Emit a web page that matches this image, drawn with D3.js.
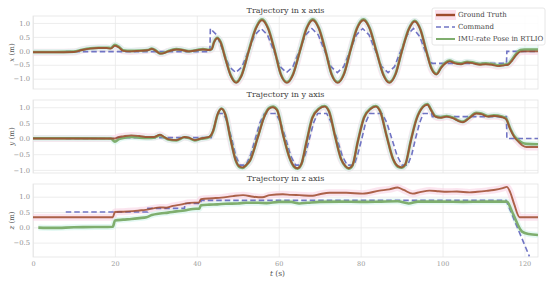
<!DOCTYPE html>
<html>
<head>
<meta charset="utf-8">
<script src="https://cdn.jsdelivr.net/npm/d3@7"></script>
<style>
  body { margin: 0; background: #fff; }
  text { font-family: "DejaVu Serif", serif; }
</style>
</head>
<body>
<div id="chart"></div>
<script>
// chart size
let svgWidth = 550;
let svgHeight = 281;

// time ticks (shared)
const tTicks = [0, 20, 40, 60, 80, 100, 120];

// ---- x axis panel ----
const gtX = [[0,-0.05],[5,-0.05],[10,-0.04],[12,0.03],[14,0.08],[16,0.1],[18,0.1],[19,0.08],[20,0.18],[21,0.12],[22,0.0],[24,-0.02],[26,0.0],[28,0.02],[29,0.07],[30,0.0],[31,-0.1],[32,-0.08],[33,-0.02],[35,0.05],[36,0.04],[38,-0.02],[40,0.02],[41.5,0.05],[43,0.03],[43.6,0.05],
  [44.2,0.3],[45,0.45],[45.8,0.3],[47,-0.3],[48.3,-0.9],[49.6,-1.15],[50.9,-0.9],[52.7,0.0],[54.4,0.8],[55.9,1.1],[57.4,0.8],[59.0,0.0],[60.5,-0.85],[62.0,-1.15],[63.5,-0.85],[65.2,0.0],[66.8,0.8],[68.3,1.1],[69.8,0.8],[71.4,0.0],[72.9,-0.85],[74.4,-1.15],[75.9,-0.85],[77.5,0.0],[79.1,0.8],[80.7,1.1],[82.2,0.8],[83.8,0.0],[85.5,-0.85],[87.0,-1.15],[88.5,-0.85],[90.1,0.0],[91.7,0.75],[93.2,1.05],[94.6,0.75],[96.0,0.0],[97.3,-0.65],[98.5,-0.85],[99.7,-0.6],[100.7,-0.45],[101.7,-0.38],[103,-0.45],[104.5,-0.48],[106,-0.42],[107.5,-0.45],[109,-0.5],[110.5,-0.48],[112,-0.5],[113.5,-0.55],[115,-0.52],[116,-0.5],[117,-0.35],[118,-0.15],[119,-0.03],[120,-0.02],[123.3,-0.02]];
const cmdX = [[8,-0.03],[43.2,-0.03],[43.3,0.8],[44.85,0.57],[46.4,0.0],[47.95,-0.57],[49.5,-0.78],[51.05,-0.57],[52.6,0.0],[54.15,0.57],[55.7,0.8],[57.25,0.57],[58.8,0.0],[60.35,-0.57],[61.9,-0.78],[63.45,-0.57],[65,0.0],[66.55,0.57],[68.1,0.8],[69.65,0.57],[71.2,0.0],[72.75,-0.57],[74.3,-0.78],[75.85,-0.57],[77.4,0.0],[78.95,0.57],[80.5,0.8],[82.05,0.57],[83.6,0.0],[85.15,-0.57],[86.7,-0.78],[88.25,-0.57],[89.8,0.0],[91.35,0.57],[92.9,0.8],[94.45,0.5],[96.0,-0.1],[97.4,-0.45],[115.6,-0.45],[115.7,-0.02],[123.3,-0.02]];
const imuX = [[0,-0.04],[5,-0.04],[10,-0.03],[12,0.04],[14,0.09],[16,0.11],[18,0.11],[19,0.1],[20,0.22],[21,0.14],[22,0.02],[24,0.0],[26,0.01],[28,0.03],[29,0.08],[30,0.01],[31,-0.09],[32,-0.07],[33,-0.01],[35,0.06],[36,0.05],[38,-0.01],[40,0.03],[41.5,0.06],[43,0.04],[43.6,0.06],
  [44.2,0.32],[45,0.47],[45.8,0.32],[47,-0.28],[48.3,-0.88],[49.6,-1.12],[50.9,-0.88],[52.7,0.02],[54.4,0.82],[55.9,1.13],[57.4,0.82],[59.0,0.02],[60.5,-0.83],[62.0,-1.12],[63.5,-0.83],[65.2,0.02],[66.8,0.82],[68.3,1.13],[69.8,0.82],[71.4,0.02],[72.9,-0.83],[74.4,-1.12],[75.9,-0.83],[77.5,0.02],[79.1,0.82],[80.7,1.13],[82.2,0.82],[83.8,0.02],[85.5,-0.83],[87.0,-1.12],[88.5,-0.83],[90.1,0.02],[91.7,0.77],[93.2,1.08],[94.6,0.77],[96.0,0.02],[97.3,-0.62],[98.5,-0.82],[99.7,-0.57],[100.7,-0.42],[101.7,-0.35],[103,-0.42],[104.5,-0.45],[106,-0.39],[107.5,-0.42],[109,-0.47],[110.5,-0.45],[112,-0.47],[113.5,-0.52],[115,-0.5],[116,-0.47],[117,-0.3],[118,-0.1],[119,0.03],[120,0.05],[123.3,0.05]];

// ---- y axis panel ----
const gtY = [[0,0],[10,0],[19,0],[20,0.0],[21,0.05],[22,0.07],[24,0.1],[26,0.08],[28,0.05],[29.5,0.05],[31,0.12],[32,0.05],[33,-0.02],[35,-0.05],[37,0.05],[38,0.03],[39.5,-0.05],[41,0.0],[43,0.05],
  [44,0.25],[45,0.75],[46,0.95],[47,0.75],[48.2,0.0],[49.5,-0.7],[50.5,-0.9],[51.2,-0.92],[52,-0.85],[53,-0.7],[54.8,0.0],[56.5,0.7],[57.6,0.95],[58.6,1.0],[59.6,0.9],[61.1,0.1],[62.6,-0.6],[63.7,-0.88],[64.6,-0.95],[65.5,-0.82],[66.8,-0.1],[68.2,0.65],[69.9,0.95],[71.2,1.02],[72.3,0.85],[73.7,0.1],[75.2,-0.65],[76.3,-0.88],[77.1,-0.95],[78,-0.85],[79.3,-0.1],[80.8,0.65],[82.5,0.95],[83.7,1.02],[84.8,0.85],[86.3,0.1],[87.9,-0.65],[89.1,-0.88],[90,-0.92],[90.9,-0.82],[92.2,-0.1],[93.6,0.6],[95.2,1.0],[96.3,1.08],[97.2,0.9],[98.2,0.7],[99.5,0.66],[101,0.7],[102.5,0.65],[104,0.55],[105,0.52],[106.5,0.65],[108.2,0.8],[109.5,0.78],[111,0.7],[112.5,0.72],[114.5,0.68],[115.5,0.62],[116.5,0.3],[117.5,0.05],[118.5,-0.1],[119.5,-0.22],[120.5,-0.27],[123.3,-0.27]];
const cmdY = [[8,0],[20,0],[20.5,0.03],[43.5,0.03],[44.3,0.4],[45.2,0.8],[46.5,0.8],[47.5,0.5],[48.5,0.0],[49.5,-0.55],[50.5,-0.85],[52,-0.85],[53.2,-0.5],[54.3,0.0],[55.4,0.5],[56.5,0.8],[59.3,0.8],[60.5,0.5],[61.7,0.0],[62.9,-0.55],[64.1,-0.85],[65.5,-0.85],[66.5,-0.5],[67.5,0.0],[68.5,0.5],[69.5,0.8],[71.7,0.8],[72.9,0.5],[74.2,0.0],[75.5,-0.55],[76.7,-0.85],[78.4,-0.85],[79.3,-0.5],[80.3,0.0],[81.2,0.5],[82.2,0.8],[85.2,0.8],[86.4,0.5],[87.6,0.0],[88.9,-0.55],[90.1,-0.85],[91.5,-0.85],[92.5,-0.5],[93.4,0.0],[94.4,0.5],[95.3,0.8],[97.3,0.8],[97.5,0.7],[115.6,0.7],[115.7,0.0],[123.3,0.0]];
const imuY = [[0,0.01],[10,0.01],[19,0.0],[20,-0.1],[21,-0.02],[22,0.02],[24,0.05],[26,0.03],[28,0.02],[29.5,0.03],[31,0.1],[32,0.04],[33,-0.03],[35,-0.06],[37,0.04],[38,0.02],[39.5,-0.06],[41,-0.01],[43,0.04],
  [44,0.24],[45,0.74],[46,0.96],[47,0.76],[48.2,0.01],[49.5,-0.7],[50.5,-0.92],[51.2,-0.94],[52,-0.86],[53,-0.7],[54.8,0.01],[56.5,0.72],[57.6,0.97],[58.6,1.02],[59.6,0.92],[61.1,0.11],[62.6,-0.6],[63.7,-0.9],[64.6,-0.96],[65.5,-0.83],[66.8,-0.09],[68.2,0.67],[69.9,0.97],[71.2,1.04],[72.3,0.87],[73.7,0.11],[75.2,-0.65],[76.3,-0.9],[77.1,-0.96],[78,-0.86],[79.3,-0.09],[80.8,0.67],[82.5,0.97],[83.7,1.04],[84.8,0.87],[86.3,0.11],[87.9,-0.65],[89.1,-0.9],[90,-0.93],[90.9,-0.83],[92.2,-0.09],[93.6,0.62],[95.2,1.02],[96.3,1.1],[97.2,0.92],[98.2,0.72],[99.5,0.68],[101,0.72],[102.5,0.67],[104,0.57],[105,0.54],[106.5,0.67],[108.2,0.82],[109.5,0.8],[111,0.72],[112.5,0.74],[114.5,0.7],[115.5,0.64],[116.5,0.33],[117.5,0.08],[118.5,-0.05],[119.5,-0.14],[120.5,-0.17],[123.3,-0.18]];

// ---- z axis panel ----
const gtZ = [[0,0.33],[19.5,0.33],[20,0.5],[22,0.51],[24.4,0.53],[26,0.55],[27.5,0.57],[29.3,0.62],[31,0.65],[32.5,0.64],[34.2,0.7],[36,0.74],[38.3,0.8],[40.5,0.81],[41,0.92],[44,0.95],[46,0.97],[48.8,1.02],[51.3,1.05],[53.8,1.0],[56,0.98],[57.8,1.05],[61,1.08],[63,1.06],[65,1.05],[68.3,1.03],[70,1.08],[72.4,1.13],[76.5,1.13],[80.5,1.1],[84.6,1.2],[87,1.24],[89,1.3],[90.5,1.22],[92.7,1.1],[94.5,1.15],[96.8,1.2],[99,1.18],[101,1.16],[103.5,1.17],[106.6,1.14],[108.5,1.16],[110.7,1.19],[112.5,1.22],[114.7,1.28],[115.7,1.32],[116.5,1.15],[117.5,0.75],[118.8,0.33],[123.3,0.33]];
const cmdZ = [[8,0.5],[28,0.5],[28.05,0.62],[37,0.62],[37.05,0.78],[41,0.78],[41.05,0.88],[115.5,0.88],[121.2,-0.95]];
const imuZ = [[1.3,-0.01],[5,-0.02],[10,0.0],[15,0.01],[19.5,0.02],[20,0.22],[22,0.25],[24,0.27],[26,0.3],[27.7,0.33],[29,0.4],[31,0.45],[33,0.48],[35,0.52],[37,0.55],[39,0.6],[40.6,0.61],[41,0.72],[43,0.74],[45,0.75],[47,0.77],[50,0.78],[52,0.8],[55,0.8],[57,0.79],[60,0.83],[63,0.83],[65,0.78],[67,0.8],[70,0.83],[75,0.84],[80,0.83],[85,0.84],[89,0.85],[91.7,0.78],[94,0.84],[100,0.84],[105,0.83],[110,0.84],[115,0.84],[115.7,0.84],[117,0.5],[119.4,-0.14],[121,-0.22],[123.3,-0.25]];

// legend entries
const seriesNames = ["Ground Truth", "Command", "IMU-rate Pose in RTLIO"];

// colours
const gtColor = "#9e4a2c";
const cmdColor = "#7074c4";
const imuColor = "#7fae6e";

// panel layout
let panels = [
  { title: "Trajectory in x axis", axis: "x", top: 16, bottom: 89, domain: [-1.37, 1.25], ticks: [-1.0, -0.5, 0.0, 0.5, 1.0], gt: gtX, cmd: cmdX, imu: imuX },
  { title: "Trajectory in y axis", axis: "y", top: 100, bottom: 173, domain: [-1.1, 1.23], ticks: [-1.0, -0.5, 0.0, 0.5, 1.0], gt: gtY, cmd: cmdY, imu: imuY },
  { title: "Trajectory in z axis", axis: "z", top: 184, bottom: 257, domain: [-0.97, 1.415], ticks: [-0.5, 0.0, 0.5, 1.0], gt: gtZ, cmd: cmdZ, imu: imuZ }
];

let left = 33, right = 538;

let svg = d3.select("#chart")
  .append("svg")
  .attr("width", svgWidth)
  .attr("height", svgHeight);

let xScale = d3.scaleLinear().domain([0, 123.3]).range([left, right]);

panels.forEach(function(p, i) {
  let yScale = d3.scaleLinear().domain(p.domain).range([p.bottom, p.top]);
  let g = svg.append("g");

  // clip to plot area
  g.append("clipPath").attr("id", "clip" + i)
    .append("rect")
    .attr("x", left).attr("y", p.top)
    .attr("width", right - left).attr("height", p.bottom - p.top);

  // vertical grid
  g.append("g")
    .attr("transform", `translate(0, ${p.bottom})`)
    .call(d3.axisBottom(xScale).tickValues(tTicks).tickSize(-(p.bottom - p.top)).tickFormat(i === 2 ? d3.format("d") : ""))
    .call(ax => ax.select(".domain").remove())
    .call(ax => ax.selectAll("line").attr("stroke", "#e8e8e8").attr("stroke-width", 0.8))
    .call(ax => ax.selectAll("text").attr("fill", "#999").attr("font-size", 6.5).attr("dy", "0.9em")
      .style("font-family", "DejaVu Serif"));

  // horizontal grid + labels
  g.append("g")
    .attr("transform", `translate(${left}, 0)`)
    .call(d3.axisLeft(yScale).tickValues(p.ticks).tickSize(-(right - left)).tickPadding(3).tickFormat(d3.format(".1f")))
    .call(ax => ax.select(".domain").remove())
    .call(ax => ax.selectAll("line").attr("stroke", "#e8e8e8").attr("stroke-width", 0.8))
    .call(ax => ax.selectAll("text").attr("fill", "#8f8f8f").attr("font-size", 6.8)
      .style("font-family", "DejaVu Serif"));

  // frame
  g.append("rect")
    .attr("x", left).attr("y", p.top)
    .attr("width", right - left).attr("height", p.bottom - p.top)
    .attr("fill", "none").attr("stroke", "#e3e3e3").attr("stroke-width", 0.8);

  let line = d3.line()
    .x(d => xScale(d[0]))
    .y(d => yScale(d[1]))
    .curve(d3.curveMonotoneX);

  let plot = g.append("g").attr("clip-path", `url(#clip${i})`);

  // soft bands
  plot.append("path").datum(p.gt).attr("d", line)
    .attr("fill", "none").attr("stroke", "#f9d3e4").attr("stroke-width", 7).attr("opacity", 0.6);
  plot.append("path").datum(p.imu).attr("d", line)
    .attr("fill", "none").attr("stroke", "#d3f5ec").attr("stroke-width", 6).attr("opacity", 0.6);

  plot.append("path").datum(p.cmd).attr("d", d3.line().x(d => xScale(d[0])).y(d => yScale(d[1])))
    .attr("fill", "none").attr("stroke", cmdColor).attr("stroke-width", 1.6)
    .attr("stroke-dasharray", "5.5,3");
  plot.append("path").datum(p.imu).attr("d", line)
    .attr("fill", "none").attr("stroke", imuColor).attr("stroke-width", 2.6);
  plot.append("path").datum(p.gt).attr("d", line)
    .attr("fill", "none").attr("stroke", gtColor).attr("stroke-width", 1.9).attr("opacity", 0.85);

  // title
  g.append("text")
    .attr("x", (left + right) / 2)
    .attr("y", p.top - 3)
    .attr("text-anchor", "middle")
    .attr("font-size", 8)
    .attr("fill", "#444")
    .text(p.title);

  // y label
  let lab = g.append("text")
    .attr("transform", `translate(14, ${(p.top + p.bottom) / 2}) rotate(-90)`)
    .attr("text-anchor", "middle")
    .attr("font-size", 7)
    .attr("fill", "#555");
  lab.append("tspan").attr("font-style", "italic").text(p.axis);
  lab.append("tspan").text(" (m)");
});

// x axis label
let tl = svg.append("text")
  .attr("x", (left + right) / 2 - 8)
  .attr("y", 276)
  .attr("text-anchor", "middle")
  .attr("font-size", 7.5)
  .attr("fill", "#555");
tl.append("tspan").attr("font-style", "italic").text("t");
tl.append("tspan").text(" (s)");

// legend
let legend = svg.append("g").attr("transform", "translate(432, 8)");
legend.append("rect")
  .attr("width", 113).attr("height", 37).attr("rx", 2)
  .attr("fill", "#fff").attr("fill-opacity", 0.85)
  .attr("stroke", "#e0e0e0").attr("stroke-width", 0.8);

seriesNames.forEach(function(name, k) {
  let y = 7 + k * 12;
  if (k === 0) {
    legend.append("rect").attr("x", 3).attr("y", y - 5).attr("width", 21).attr("height", 10)
      .attr("fill", "#fbe0ec");
  }
  let l = legend.append("line")
    .attr("x1", 4).attr("x2", 23).attr("y1", y).attr("y2", y);
  if (k === 0) l.attr("stroke", gtColor).attr("stroke-width", 2.4);
  if (k === 1) l.attr("stroke", cmdColor).attr("stroke-width", 1.6).attr("stroke-dasharray", "5,3");
  if (k === 2) l.attr("stroke", imuColor).attr("stroke-width", 2);
  legend.append("text")
    .attr("x", 26).attr("y", y)
    .attr("dy", "0.35em")
    .attr("font-size", 7)
    .attr("fill", "#444")
    .text(name);
});
</script>
</body>
</html>
